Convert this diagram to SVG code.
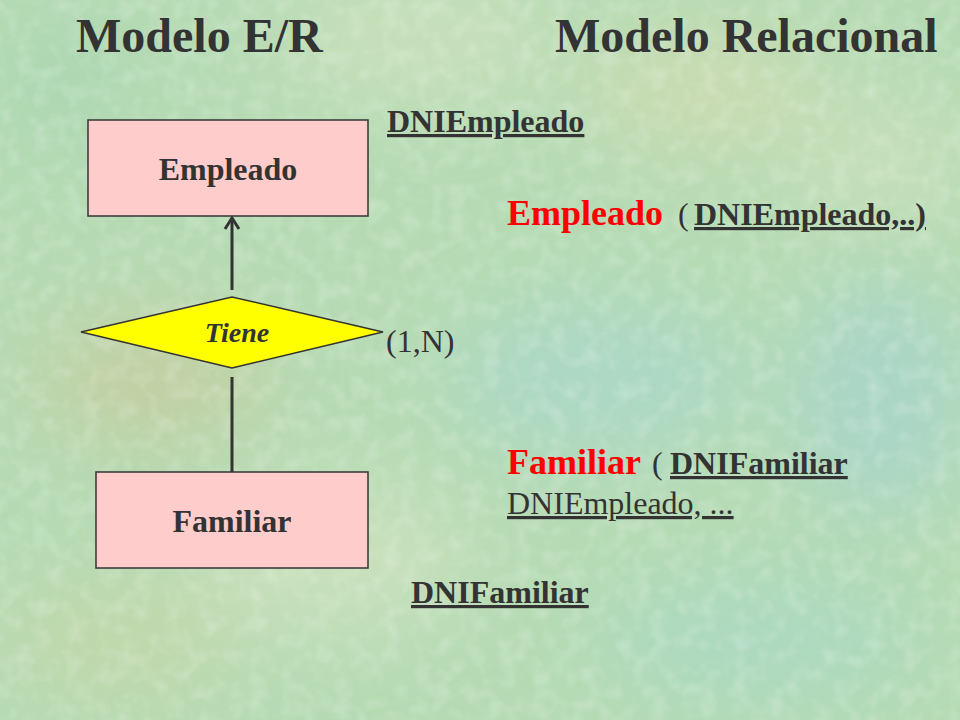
<svg xmlns="http://www.w3.org/2000/svg" width="960" height="720" viewBox="0 0 960 720">
  <defs>
    <style>
      .t { font-family: "Liberation Serif", "Times New Roman", serif; fill: #333333; }
      .b { font-weight: bold; }
      .title { font-size: 48px; font-weight: bold; }
      .ent { fill: #ffcccc; stroke: #333333; stroke-width: 1.5; }
      .rel { fill: #ffff00; stroke: #333333; stroke-width: 1.5; }
      .con { stroke: #333333; stroke-width: 3; fill: none; }
      .u { text-decoration: underline; }
      .red { fill: #ff0000; }
    </style>
    <marker id="arr" viewBox="0 0 20 20" refX="17" refY="10" markerWidth="20" markerHeight="20" markerUnits="userSpaceOnUse" orient="auto">
      <path d="M6,3 L17,10 L6,17" fill="none" stroke="#333333" stroke-width="3"/>
    </marker>
    <filter id="tex" x="0" y="0" width="100%" height="100%">
      <feTurbulence type="fractalNoise" baseFrequency="0.06" numOctaves="2" seed="7" result="n"/>
      <feColorMatrix in="n" type="matrix" values="0 0 0 0 1  0 0 0 0 1  0 0 0 0 1  0 0 0 -2 1.15" result="w"/>
      <feComposite in="w" in2="SourceGraphic" operator="in"/>
    </filter>
    <filter id="blot" x="-50%" y="-50%" width="200%" height="200%">
      <feGaussianBlur stdDeviation="40"/>
    </filter>
  </defs>

  <g id="background">
    <rect x="0" y="0" width="960" height="720" fill="#b6dbb4"/>
    <g filter="url(#blot)" opacity="0.6">
      <ellipse cx="150" cy="380" rx="120" ry="70" fill="#c9c99a"/>
      <ellipse cx="420" cy="40" rx="140" ry="60" fill="#d5e3c0"/>
      <ellipse cx="700" cy="90" rx="120" ry="60" fill="#d8dcb0"/>
      <ellipse cx="600" cy="380" rx="150" ry="80" fill="#a6d6cf"/>
      <ellipse cx="880" cy="400" rx="90" ry="120" fill="#a2d2d2"/>
      <ellipse cx="330" cy="560" rx="140" ry="70" fill="#d7e4c2"/>
      <ellipse cx="760" cy="640" rx="160" ry="70" fill="#a6d8c6"/>
      <ellipse cx="60" cy="80" rx="80" ry="80" fill="#a9d6b0"/>
      <ellipse cx="880" cy="160" rx="90" ry="60" fill="#d2e2bd"/>
      <ellipse cx="120" cy="640" rx="120" ry="60" fill="#c8d6a6"/>
    </g>
    <rect x="0" y="0" width="960" height="720" fill="#ffffff" opacity="0.22" filter="url(#tex)"/>
  </g>

  <g id="titles">
    <text class="t title" x="76" y="52">Modelo E/R</text>
    <text class="t title" x="555" y="52">Modelo Relacional</text>
  </g>

  <g id="connectors">
    <line class="con" x1="232" y1="290" x2="232" y2="218" marker-end="url(#arr)"/>
    <line class="con" x1="232" y1="377" x2="232" y2="472"/>
  </g>

  <g id="node-empleado">
    <rect class="ent" x="88" y="120" width="280" height="96"/>
    <text class="t b" x="228" y="180" font-size="32" text-anchor="middle">Empleado</text>
  </g>

  <g id="node-tiene">
    <polygon class="rel" points="81,332 232,297 383,332 232,368"/>
    <text class="t b" x="237" y="342" font-size="28" font-style="italic" text-anchor="middle">Tiene</text>
  </g>

  <g id="node-familiar">
    <rect class="ent" x="96" y="472" width="272" height="96"/>
    <text class="t b" x="232" y="532" font-size="32" text-anchor="middle">Familiar</text>
  </g>

  <g id="labels">
    <text class="t b u" x="387" y="132" font-size="32">DNIEmpleado</text>
    <text class="t" x="386" y="352" font-size="32">(1,N)</text>
    <text class="t b u" x="411" y="603" font-size="32">DNIFamiliar</text>
  </g>

  <g id="relational">
    <text class="t" font-size="32" y="225"><tspan class="b red" x="507" font-size="36">Empleado</tspan><tspan x="678">(</tspan><tspan class="b u" x="694">DNIEmpleado,..)</tspan></text>
    <text class="t" font-size="32" y="474"><tspan class="b red" x="507" font-size="36">Familiar</tspan><tspan x="652">(</tspan><tspan class="b u" x="670">DNIFamiliar</tspan></text>
    <text class="t u" x="507" y="514" font-size="32">DNIEmpleado, ...</text>
  </g>
</svg>
